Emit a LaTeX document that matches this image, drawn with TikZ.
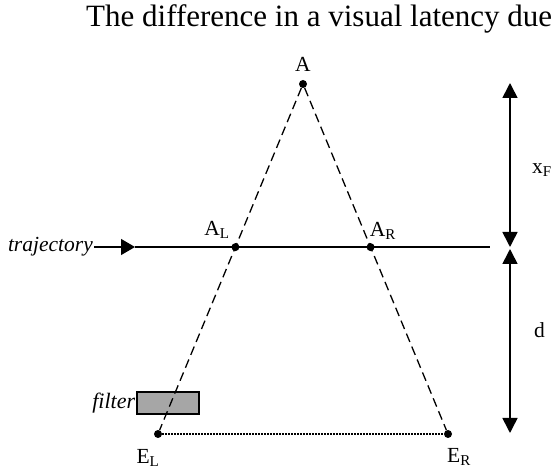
\documentclass[tikz,border=0pt]{standalone}
\usepackage{fontspec}
\setmainfont{Liberation Serif}
\usetikzlibrary{arrows.meta,calc}
\begin{document}
\begin{tikzpicture}[x=1pt,y=-1pt,every node/.style={font=\fontsize{21.5}{25}\selectfont,inner sep=1pt},
  dot/.style={circle,fill,inner sep=0pt,minimum size=8pt},
  ray/.style={line width=1.3pt,dash pattern=on 9pt off 5pt},
  dimarrow/.style={line width=1.6pt,{Triangle[length=15pt,width=15pt]}-{Triangle[length=15pt,width=15pt]}}]
  \useasboundingbox (0,0) rectangle (555,470);
  \clip (0,0) rectangle (555,470);
  \node[anchor=base west,font=\fontsize{31}{36}\selectfont] (title) at (85,27) {The difference in a visual latency due};
  % eyes, target and the crossing points on the trajectory
  \node[dot] (A) at (303,84) {};
  \node[dot] (EL) at (158,434) {};
  \node[dot] (ER) at (448,434) {};
  \node[dot] (AL) at ($(A)!.466!(EL)$) {};
  \node[dot] (AR) at ($(A)!.466!(ER)$) {};
  \node (lA) at (303,64) {A};
  \node (lAL) at (217,230) {A\textsubscript{L}};
  \node (lAR) at (383,231) {A\textsubscript{R}};
  \node (lEL) at (148,458) {E\textsubscript{L}};
  \node (lER) at (459,457) {E\textsubscript{R}};
  % filter in front of the left eye
  \node[draw,line width=1.3pt,fill=black!35,minimum width=62pt,minimum height=22pt,inner sep=0pt] (filt) at (168,403) {};
  \node[anchor=east,font=\fontsize{22}{25}\selectfont\itshape] (lfilt) at (filt.west) {filter};
  \draw[ray] (A) -- (EL);
  \draw[ray] (A) -- (ER);
  \draw[line width=1.2pt,dash pattern=on 1.5pt off 1.5pt] (EL) -- (ER);
  % trajectory
  \node[anchor=east,font=\fontsize{21.5}{25}\selectfont\itshape] (traj) at (94,247) {trajectory};
  \coordinate (Ttip) at (135,247);
  \coordinate (Tend) at (490,247);
  \draw[line width=1.3pt,-{Triangle[length=14pt,width=16pt]}] (traj.east) -- (Ttip);
  \draw[line width=2.8pt] (Ttip) -- (Tend);
  % distances
  \coordinate (D1) at (510,83); \coordinate (D2) at (510,247);
  \coordinate (D3) at (510,249); \coordinate (D4) at (510,433);
  \draw[dimarrow] (D1) -- (D2);
  \draw[dimarrow] (D3) -- (D4);
  \node[anchor=west] (lxF) at (531,170) {x\textsubscript{F}};
  \node[anchor=west] (ld) at (533,330) {d};
\end{tikzpicture}
\end{document}
